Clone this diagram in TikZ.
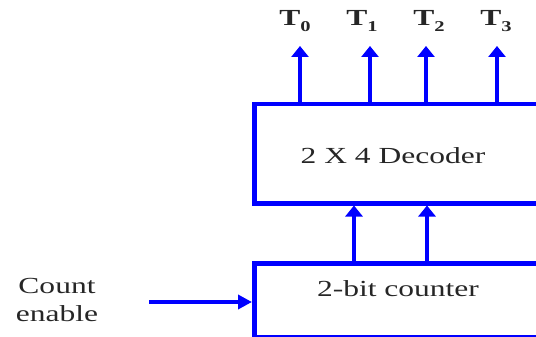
\documentclass[tikz,border=0pt]{standalone}
\usepackage{fontspec}
\setmainfont{Liberation Serif}
\usetikzlibrary{arrows.meta}
\newcommand{\sx}[1]{\scalebox{1.37}[1]{#1}}
\newcommand{\Tsub}[1]{\sx{\bfseries T\raisebox{-6pt}{\fontsize{15}{15}\selectfont #1}}}
\begin{document}
\begin{tikzpicture}[x=1pt,y=-1pt,
  blk/.style={draw=blue, line width=4.5pt, rectangle, anchor=north west, inner sep=0pt},
  arr/.style={draw=blue, line width=4.5pt, -{Triangle[width=17pt,length=11pt]}},
  lbl/.style={font=\fontsize{23}{26}\selectfont, text=black!85, inner sep=0pt}]
\useasboundingbox (0,0) rectangle (536,337);
\clip (0,0) rectangle (536,337);
\node[blk, minimum width=310pt, minimum height=99pt] (dec) at (252,102) {};
\node[blk, minimum width=310pt, minimum height=74pt] (cnt) at (252,261) {};
\node[lbl] (decl) at (393,156) {\sx{2 X 4 Decoder}};
\node[lbl] (cntl) at (398,289) {\sx{2-bit counter}};
\node[lbl, align=center, font=\fontsize{23}{28}\selectfont] (ce) at (57,300) {\sx{Count}\\\sx{enable}};
\node[lbl, anchor=base] (t0) at (295,26) {\Tsub{0}};
\node[lbl, anchor=base] (t1) at (362,26) {\Tsub{1}};
\node[lbl, anchor=base] (t2) at (429,26) {\Tsub{2}};
\node[lbl, anchor=base] (t3) at (496,26) {\Tsub{3}};
\coordinate (o0) at (300,46);
\coordinate (o1) at (370,46);
\coordinate (o2) at (426,46);
\coordinate (o3) at (497,46);
\foreach \i in {0,...,3} \draw[arr] (dec.north -| o\i) -- (o\i);
\coordinate (c0) at (354,258);
\coordinate (c1) at (427,258);
\draw[arr] (cnt.north -| c0) -- (c0 |- dec.south);
\draw[arr] (cnt.north -| c1) -- (c1 |- dec.south);
\coordinate (ein) at (149,302);
\draw[draw=blue, line width=4pt, -{Triangle[width=14pt,length=14pt]}] (ein) -- (ein -| cnt.west);
\end{tikzpicture}
\end{document}
